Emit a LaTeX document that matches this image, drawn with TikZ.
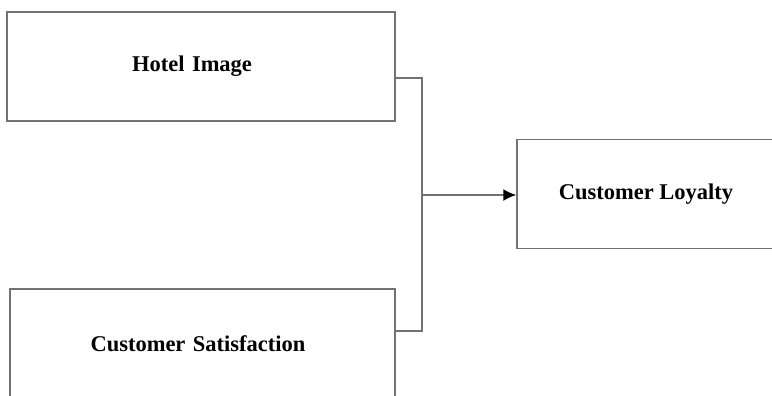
\documentclass[tikz,border=0pt]{standalone}
\usepackage{fontspec}
\setmainfont{Liberation Serif}
\usetikzlibrary{arrows.meta}
\begin{document}
\begin{tikzpicture}[x=1pt,y=-1pt,
  box/.style={draw=gray!90!black, line width=1.5pt, rectangle, minimum height=109pt,
    font=\fontsize{22.5}{26}\selectfont\bfseries},
  link/.style={draw=gray!90!black, line width=1.5pt}]
  \useasboundingbox (0,0) rectangle (772,396);
  \node[box, minimum width=388pt, text width=370pt, align=center] (hotel) at (201,66.5) {\hspace*{-18pt}Hotel Image};
  \node[box, minimum width=385pt, text width=370pt, align=center] (satis) at (202.5,343.5) {\hspace*{-9pt}Customer Satisfaction};
  \node[box, minimum width=258pt] (loyal) at (646,194) {Customer Loyalty};
  \coordinate (join) at (422,195);
  \draw[link] ([yshift=-11.5pt]hotel.east) -| (join);
  \draw[link] ([yshift=12.5pt]satis.east) -| (join);
  \draw[link, -{Latex[length=13pt,width=12pt,black]}] (join) -- (join -| loyal.west);

\end{tikzpicture}
\end{document}
